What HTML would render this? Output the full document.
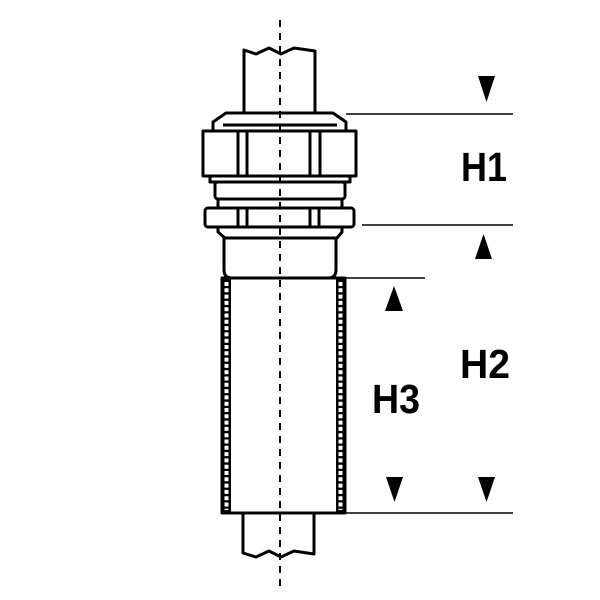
<!DOCTYPE html>
<html><head><style>html,body{margin:0;padding:0;background:#fff}svg{display:block}</style></head>
<body>
<svg width="600" height="600" viewBox="0 0 600 600" xmlns="http://www.w3.org/2000/svg">
<g fill="#fff" stroke="#000" stroke-width="3" stroke-linejoin="round">
<!-- top pipe -->
<path d="M244,114 L244,50 L256,54 L269,48 L281,54 L294,48 L315,51 L315,114 Z"/>
<!-- bottom pipe -->
<path d="M243,513 L243,553 L256,557 L269,551 L281,557 L294,551 L314,554 L314,513 Z"/>
<!-- tube -->
<rect x="222" y="278" width="123" height="235" fill="#fff"/>
<rect x="222" y="278" width="9" height="235" fill="#000" stroke-width="0"/>
<rect x="336" y="278" width="9" height="235" fill="#000" stroke-width="0"/>
<line x1="226.5" y1="282" x2="226.5" y2="510" stroke="#fff" stroke-width="4" stroke-dasharray="4 2.3"/>
<line x1="340.5" y1="282" x2="340.5" y2="510" stroke="#fff" stroke-width="4" stroke-dasharray="4 2.3"/>
<line x1="222" y1="513" x2="345" y2="513"/>
<!-- body top -->
<path d="M224,238 L224,270 Q224,278 232,278 L328,278 Q336,278 336,270 L336,238 Z"/>
<path d="M218,227 L218,232 L225,238 L337,238 L342,232 L342,227 Z"/>
<!-- lower nut -->
<rect x="205" y="208" width="149" height="19" rx="3"/>
<line x1="238" y1="208" x2="238" y2="227"/><line x1="247" y1="208" x2="247" y2="227"/>
<line x1="310" y1="208" x2="310" y2="227"/><line x1="319" y1="208" x2="319" y2="227"/>
<!-- band -->
<rect x="218" y="199" width="124" height="9"/>
<rect x="215" y="182" width="130" height="17" rx="3"/>
<rect x="210" y="176" width="140" height="6"/>
<!-- hex nut -->
<path d="M226,113 L333,113 L346,122 L346,131 L213,131 L213,122 Z"/>
<line x1="223" y1="125" x2="337" y2="125"/>
<rect x="203" y="131" width="153" height="45"/>
<line x1="238" y1="131" x2="238" y2="176"/><line x1="247" y1="131" x2="247" y2="176"/>
<line x1="310" y1="131" x2="310" y2="176"/><line x1="320" y1="131" x2="320" y2="176"/>
</g>
<!-- centerline -->
<line x1="280" y1="20" x2="280" y2="592" stroke="#000" stroke-width="2" stroke-dasharray="7 6"/>
<!-- dimension lines -->
<g stroke="#000" stroke-width="1.5">
<line x1="346" y1="114" x2="513" y2="114"/>
<line x1="362" y1="225" x2="513" y2="225"/>
<line x1="346" y1="278" x2="425" y2="278"/>
<line x1="346" y1="513" x2="513" y2="513"/>
</g>
<g fill="#000">
<polygon points="478,76 495,76 486.5,102"/>
<polygon points="475,259 492,259 483.5,234"/>
<polygon points="385,311 403,311 394,286"/>
<polygon points="386,477 403,477 394.5,502"/>
<polygon points="478,477 495,477 486.5,502"/>
</g>
<g font-family="Liberation Sans, sans-serif" font-weight="bold" font-size="41" fill="#000">
<text x="461" y="181" textLength="46" lengthAdjust="spacingAndGlyphs">H1</text>
<text x="460" y="378" textLength="50" lengthAdjust="spacingAndGlyphs">H2</text>
<text x="372" y="413" textLength="48" lengthAdjust="spacingAndGlyphs">H3</text>
</g>
</svg>
</body></html>
